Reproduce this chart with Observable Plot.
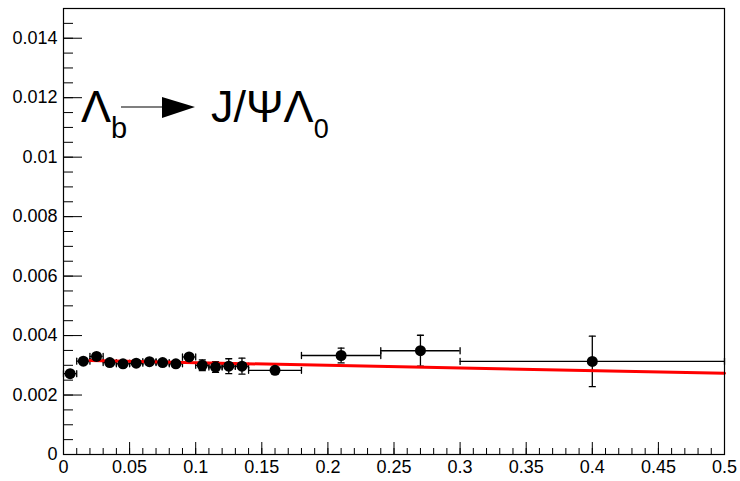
<!DOCTYPE html>
<html>
<head>
<meta charset="utf-8">
<script src="https://cdn.jsdelivr.net/npm/d3@7"></script>
<script src="https://cdn.jsdelivr.net/npm/@observablehq/plot@0.6"></script>
<style>
  html, body { margin: 0; padding: 0; background: #fff; }
  #chart { width: 740px; height: 481px; }
</style>
</head>
<body>
<div id="chart"></div>
<script>
// ---- data ----
const xCenters = [0.005, 0.015, 0.025, 0.035, 0.045, 0.055, 0.065, 0.075, 0.085, 0.095, 0.105, 0.115, 0.125, 0.135, 0.16, 0.21, 0.27, 0.40];
const xErrors  = [0.005, 0.005, 0.005, 0.005, 0.005, 0.005, 0.005, 0.005, 0.005, 0.005, 0.005, 0.005, 0.005, 0.005, 0.02, 0.03, 0.03, 0.10];
const yValues  = [0.00272, 0.00314, 0.00330, 0.00309, 0.00305, 0.00307, 0.00312, 0.00309, 0.00305, 0.00328, 0.00300, 0.00294, 0.00297, 0.00297, 0.00283, 0.00333, 0.00349, 0.00313];
const yErrors  = [0.00008, 0.00008, 0.00008, 0.00008, 0.00008, 0.00008, 0.00008, 0.00008, 0.00008, 0.00010, 0.00018, 0.00018, 0.00025, 0.00027, 0.00010, 0.00025, 0.00052, 0.00085];

const fitX = [0.02, 0.5];
const fitY = [0.00316, 0.00273];

const xTickValues = [0, 0.05, 0.1, 0.15, 0.2, 0.25, 0.3, 0.35, 0.4, 0.45, 0.5];
const xTickLabels = ["0", "0.05", "0.1", "0.15", "0.2", "0.25", "0.3", "0.35", "0.4", "0.45", "0.5"];
const yTickValues = [0, 0.002, 0.004, 0.006, 0.008, 0.01, 0.012, 0.014];
const yTickLabels = ["0", "0.002", "0.004", "0.006", "0.008", "0.01", "0.012", "0.014"];
const xMinorTicks = d3.range(0, 0.5001, 0.01);
const yMinorTicks = d3.range(0, 0.01501, 0.0005);

// ---- build table ----
const points = xCenters.map((x, i) => ({
  x, y: yValues[i],
  xlo: x - xErrors[i], xhi: Math.min(0.5, x + xErrors[i]),
  ylo: yValues[i] - yErrors[i], yhi: yValues[i] + yErrors[i]
}));
const fit = fitX.map((x, i) => ({x, y: fitY[i]}));

const W = 740, H = 481;
const mL = 63, mR = 16, mT = 8, mB = 27;
const innerW = W - mL - mR, innerH = H - mT - mB;

const capShape = {
  draw(context, l) { context.moveTo(0, 0); context.lineTo(0, -l); }
};

const chart = Plot.plot({
  width: W, height: H,
  marginLeft: mL, marginRight: mR, marginTop: mT, marginBottom: mB,
  style: {fontFamily: "'Liberation Sans', Arial, sans-serif", fontSize: "18px", color: "#000", background: "#fff"},
  x: {domain: [0, 0.5], label: null},
  y: {domain: [0, 0.015], label: null},
  marks: [
    // minor/major ticks drawn inward (ROOT style)
    Plot.ruleY(yMinorTicks, {y: d => d, stroke: "#000", strokeWidth: 1, insetRight: innerW - 10}),
    Plot.ruleY(yTickValues, {y: d => d, stroke: "#000", strokeWidth: 1, insetRight: innerW - 19}),
    Plot.ruleX(xMinorTicks, {x: d => d, stroke: "#000", strokeWidth: 1, insetTop: innerH - 6}),
    Plot.ruleX(xTickValues, {x: d => d, stroke: "#000", strokeWidth: 1, insetTop: innerH - 12}),
    Plot.axisX({ticks: xTickValues, tickSize: 0, tickPadding: 6, tickFormat: (d, i) => xTickLabels[i], label: null}),
    Plot.axisY({ticks: yTickValues, tickSize: 0, tickPadding: 6, tickFormat: (d, i) => yTickLabels[i], label: null}),
    // error bars
    Plot.ruleY(points, {y: "y", x1: "xlo", x2: "xhi", stroke: "#000", strokeWidth: 1.3}),
    Plot.ruleX(points, {x: "x", y1: "ylo", y2: "yhi", stroke: "#000", strokeWidth: 1.3}),
    Plot.vector(points, {x: "xlo", y: "y", length: 6, anchor: "middle", shape: capShape, stroke: "#000", strokeWidth: 1.3}),
    Plot.vector(points, {x: "xhi", y: "y", length: 6, anchor: "middle", shape: capShape, stroke: "#000", strokeWidth: 1.3}),
    Plot.vector(points, {x: "x", y: "ylo", length: 6, rotate: 90, anchor: "middle", shape: capShape, stroke: "#000", strokeWidth: 1.3}),
    Plot.vector(points, {x: "x", y: "yhi", length: 6, rotate: 90, anchor: "middle", shape: capShape, stroke: "#000", strokeWidth: 1.3}),
    // fit
    Plot.line(fit, {x: "x", y: "y", stroke: "#ff0000", strokeWidth: 3}),
    // markers
    Plot.dot(points, {x: "x", y: "y", r: 5.5, fill: "#000", stroke: "none"}),
    Plot.frame({stroke: "#000", strokeWidth: 1.2})
  ]
});

// ---- title annotation: Λb → J/ΨΛ0 ----
const ns = "http://www.w3.org/2000/svg";
const g = document.createElementNS(ns, "g");
g.setAttribute("font-family", "'Liberation Sans', Arial, sans-serif");
g.setAttribute("fill", "#000");
g.setAttribute("text-anchor", "start");
g.style.textAnchor = "start";

const t1 = document.createElementNS(ns, "text");
t1.setAttribute("x", 81); t1.setAttribute("y", 122); t1.setAttribute("font-size", 45);
t1.setAttribute("text-anchor", "start");
t1.textContent = "Λ";
const s1 = document.createElementNS(ns, "tspan");
s1.setAttribute("dy", 16); s1.setAttribute("font-size", 29); s1.textContent = "b";
t1.appendChild(s1);
g.appendChild(t1);

const ln = document.createElementNS(ns, "line");
ln.setAttribute("x1", 121); ln.setAttribute("x2", 164); ln.setAttribute("y1", 107); ln.setAttribute("y2", 107);
ln.setAttribute("stroke", "#000"); ln.setAttribute("stroke-width", 1.2);
g.appendChild(ln);
const tri = document.createElementNS(ns, "polygon");
tri.setAttribute("points", "162,97 195,107 162,118");
g.appendChild(tri);

const t2 = document.createElementNS(ns, "text");
t2.setAttribute("x", 211); t2.setAttribute("y", 122); t2.setAttribute("font-size", 45);
t2.setAttribute("text-anchor", "start");
t2.textContent = "J/ΨΛ";
const s2 = document.createElementNS(ns, "tspan");
s2.setAttribute("dy", 16); s2.setAttribute("font-size", 27); s2.textContent = "0";
t2.appendChild(s2);
g.appendChild(t2);

chart.appendChild(g);
document.getElementById("chart").appendChild(chart);
</script>
</body>
</html>
